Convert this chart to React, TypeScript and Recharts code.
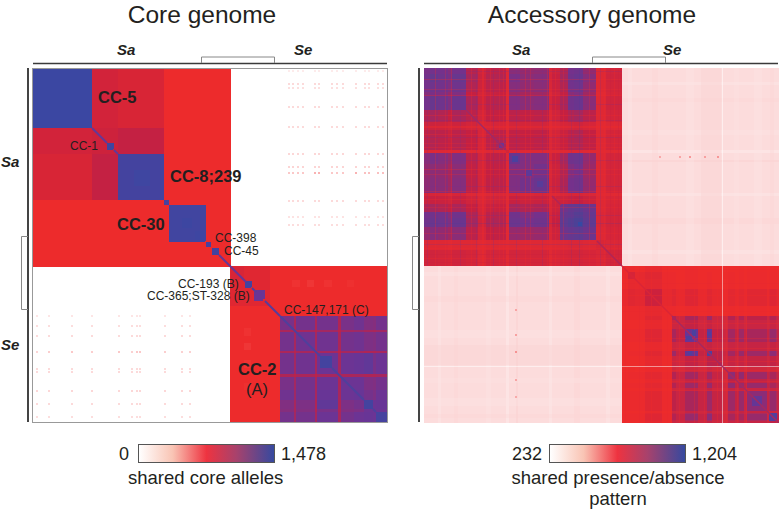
import { ScatterChart, Scatter, XAxis, YAxis, ReferenceArea, ReferenceLine } from "recharts";

// isolates are ranked 0..355 along both axes of each matrix, Sa first then Se
const RANK_MAX = 355;
const CORE_RANGE = [0, 1478];
const ACC_RANGE = [232, 1204];

// core genome: [from, to, from, to, shared alleles], every block also mirrored over the diagonal
const coreBlocks = [
  [0, 199, 131, 199, 745],
  [131, 199, 0, 131, 745],
  [60, 86, 0, 60, 905],
  [86, 132, 0, 60, 865],
  [60, 86, 60, 86, 930],
  [86, 132, 60, 86, 950],
  [60, 86, 86, 132, 970],
  [0, 60, 0, 60, 1450],
  [86, 132, 86, 132, 1400],
  [102, 118, 102, 118, 1430],
  [132, 137, 132, 137, 1380],
  [137, 174, 137, 173, 1415],
  [150, 160, 150, 160, 1440],
  [163, 172, 163, 172, 1435],
  [174, 179, 174, 179, 1370],
  [180, 187, 180, 187, 1400],
  [75, 82, 75, 81, 1420],
  [199, 355, 198, 248, 745],
  [199, 248, 199, 355, 745],
  [199, 238, 198, 238, 820],
  [199, 212, 199, 212, 870],
  [214, 220, 213, 219, 1400],
  [224, 233, 222, 231, 1200],
  [260, 268, 212, 219, 715],
  [275, 282, 212, 219, 700],
  [292, 300, 212, 219, 715],
  [315, 322, 212, 219, 720],
];
const coreDiagonal = [
  [60, 75, 1220],
  [82, 86, 1220],
  [187, 199, 1220],
  [199, 214, 1200],
  [220, 224, 1300],
  [233, 248, 1300],
];

// CC-2 (A) block, lower triangle of the pairwise matrix
const cc2Breaks = [248, 262, 264, 283, 285, 306, 309, 322, 332, 341, 344, 355];
const cc2Triangle = [
  [1150],
  [1030, 1030],
  [1160, 1040, 1170],
  [1030, 1000, 1040, 1030],
  [1160, 1050, 1170, 1040, 1180],
  [1020, 990, 1030, 980, 1040, 1020],
  [1150, 1050, 1160, 1040, 1180, 1030, 1180],
  [1170, 1060, 1170, 1040, 1200, 1040, 1180, 1200],
  [1130, 1040, 1140, 1020, 1240, 1020, 1140, 1160, 1400],
  [1120, 1030, 1130, 1020, 1150, 1020, 1130, 1140, 1180, 1190],
  [1160, 1050, 1160, 1040, 1180, 1040, 1160, 1180, 1200, 1180, 1390],
];
const cc2Squares = [[288, 300, 1400]];
const cc2Diagonal = [[248, 288, 1340], [300, 332, 1340], [341, 344, 1340]];

// faint shared alleles between the two species
const coreSaRows = [3, 16, 20, 39, 59, 86, 99, 105, 133, 149, 157];
const coreSaRowLevel = [70, 130, 110, 130, 130, 140, 150, 270, 130, 100, 120];
const coreSeCols = [257, 261, 266, 271, 283, 287, 300, 305, 311, 324, 333, 337, 346, 351];
const coreSeColLevel = [190, 190, 190, 190, 280, 280, 190, 190, 190, 280, 220, 220, 220, 220];
const coreSeRows = [248, 258, 268, 284, 301, 304, 323, 336, 349];
const coreSeRowLevel = [90, 120, 130, 190, 130, 130, 140, 130, 120];
const coreSaCols = [5, 17, 40, 60, 87, 100, 105, 108, 133, 150, 158];
const coreSaColLevel = [150, 170, 210, 170, 230, 160, 280, 280, 170, 160, 160];

// accessory genome, Sa against Sa
const accSaBreaks = [0, 6, 14, 24, 28, 42, 54, 62, 72, 82, 85, 96, 110, 125, 128, 136, 144, 150, 159, 172, 182, 198];
const accSaTriangle = [
  [1000],
  [1020, 1080],
  [1010, 1040, 1020],
  [980, 1000, 990, 950],
  [1020, 1070, 1040, 990, 1060],
  [890, 920, 900, 860, 910, 880],
  [810, 830, 820, 790, 820, 800, 770],
  [870, 890, 880, 840, 880, 860, 780, 870],
  [880, 900, 880, 850, 890, 860, 780, 880, 920],
  [745, 745, 745, 735, 745, 735, 725, 745, 745, 800],
  [970, 1000, 980, 940, 990, 880, 800, 870, 880, 745, 1060],
  [950, 970, 960, 920, 970, 870, 790, 860, 870, 745, 990, 990],
  [960, 980, 970, 930, 980, 880, 800, 870, 880, 745, 990, 1020, 1060],
  [770, 780, 770, 750, 780, 750, 725, 750, 760, 725, 770, 760, 770, 735],
  [830, 850, 840, 810, 850, 810, 760, 800, 810, 735, 850, 830, 840, 745, 820],
  [900, 920, 900, 870, 910, 860, 780, 840, 850, 735, 920, 900, 910, 760, 830, 1040],
  [1010, 1030, 1020, 970, 1030, 900, 800, 880, 890, 745, 1030, 990, 1010, 770, 850, 1080, 1110],
  [1030, 1060, 1040, 990, 1060, 920, 810, 900, 900, 745, 1050, 1010, 1030, 770, 860, 1100, 1150, 1190],
  [950, 980, 960, 930, 970, 880, 780, 860, 870, 735, 950, 940, 950, 760, 830, 1050, 1080, 1100, 1050],
  [740, 740, 740, 730, 740, 740, 725, 740, 740, 725, 740, 740, 740, 725, 740, 750, 760, 760, 750, 770],
  [800, 810, 800, 780, 810, 790, 750, 790, 790, 735, 800, 790, 790, 735, 770, 780, 790, 800, 780, 760, 800],
];
const accSaWash = [0, 198, 900, 0.16];
// accessory genome, Se against Se
const accSeBreaks = [198, 204, 211, 221, 238, 248, 252, 261, 274, 283, 288, 299, 304, 311, 315, 320, 323, 343, 345, 353, 355];
const accSeTriangle = [
  [730],
  [730, 810],
  [720, 750, 740],
  [740, 770, 760, 850],
  [720, 730, 730, 750, 730],
  [720, 730, 730, 770, 730, 880],
  [720, 720, 720, 740, 720, 800, 800],
  [730, 730, 730, 780, 730, 900, 840, 1020],
  [720, 720, 720, 740, 720, 800, 780, 830, 800],
  [720, 730, 730, 770, 730, 920, 820, 1030, 830, 1060],
  [720, 720, 720, 750, 720, 800, 780, 840, 790, 870, 860],
  [715, 720, 715, 730, 720, 770, 750, 790, 760, 800, 770, 770],
  [720, 730, 730, 760, 730, 880, 810, 910, 810, 910, 820, 770, 950],
  [720, 720, 720, 740, 720, 800, 780, 830, 790, 840, 790, 750, 860, 800],
  [725, 730, 730, 760, 730, 880, 810, 920, 810, 930, 820, 770, 940, 850, 930],
  [720, 720, 720, 740, 720, 790, 770, 820, 790, 830, 780, 750, 830, 790, 840, 790],
  [725, 730, 730, 770, 730, 860, 810, 900, 820, 920, 830, 770, 920, 840, 930, 810, 950],
  [720, 720, 720, 740, 720, 790, 770, 820, 780, 830, 790, 750, 820, 790, 830, 790, 830, 790],
  [725, 730, 730, 780, 730, 880, 820, 930, 830, 950, 840, 770, 900, 830, 900, 810, 930, 800, 1040],
  [720, 720, 720, 750, 720, 800, 780, 830, 790, 830, 790, 750, 810, 790, 820, 780, 820, 790, 860, 820],
];
const accSePurpleWash = [248, 355, 1010, 0.12];

// single isolates that stand out: [rank, span, value, opacity]
const accSaStripes = [
  [3, 1, 1000, 0.2], [11, 1, 718, 0.3], [21, 1, 718, 0.25], [27, 1, 718, 0.3], [36, 1, 1000, 0.2],
  [47, 1, 718, 0.3], [52, 1, 1000, 0.2], [58, 2, 718, 0.4], [66, 1, 718, 0.3], [69, 1, 1000, 0.2],
  [75, 1, 718, 0.25], [79, 1, 718, 0.3], [92, 1, 1000, 0.2], [101, 1, 718, 0.3], [106, 1, 718, 0.25],
  [118, 1, 1000, 0.2], [123, 1, 718, 0.3], [131, 1, 718, 0.3], [139, 1, 718, 0.25], [147, 1, 1000, 0.2],
  [155, 1, 1100, 0.2], [165, 1, 718, 0.25], [176, 1, 1000, 0.2], [180, 1, 718, 0.3], [186, 1, 860, 0.3],
  [190, 1, 718, 0.3], [194, 1, 860, 0.3],
];
const accSeStripes = [
  [201, 1, 740, 0.3], [215, 1, 760, 0.3], [227, 1, 718, 0.4], [243, 1, 740, 0.3], [255, 1, 718, 0.3],
  [270, 1, 718, 0.3], [280, 1, 718, 0.3], [293, 1, 718, 0.35], [302, 1, 718, 0.3], [313, 1, 718, 0.3],
  [322, 1, 718, 0.3], [345, 1, 718, 0.25], [352, 1, 718, 0.25],
];
const accPinkValue = 312;
const accPinkStripes = [
  [14, 3, 285, 0.4], [30, 4, 330, 0.35], [62, 5, 290, 0.35], [82, 3, 275, 0.5], [92, 2, 350, 0.4],
  [125, 3, 280, 0.4], [150, 6, 335, 0.3], [182, 4, 275, 0.35],
  [204, 4, 285, 0.35], [228, 6, 330, 0.3], [262, 8, 295, 0.35], [277, 20, 335, 0.4], [310, 5, 290, 0.3],
  [330, 8, 295, 0.35], [346, 4, 330, 0.3],
];
const accWhiteLine = 298;
const accSpecks = [
  { x: 236, y: 89, v: 430 }, { x: 256, y: 89, v: 440 }, { x: 266, y: 89, v: 470 }, { x: 281, y: 89, v: 450 }, { x: 294, y: 89, v: 470 },
  { x: 92, y: 242, v: 440 }, { x: 92, y: 267, v: 450 }, { x: 92, y: 284, v: 480 }, { x: 92, y: 312, v: 440 }, { x: 92, y: 329, v: 430 },
];
const accDiagonal = [[42, 82, 930], [128, 137, 900], [173, 198, 900], [198, 248, 800], [248, 355, 920]];
const accSquares = [
  [75, 80, 1000], [88, 94, 1130], [102, 108, 1060], [113, 119, 1080], [154, 158, 1204],
  [345, 353, 1110], [328, 338, 1030],
];
const accCrossSpots = [[268, 272, 262, 268, 1130], [283, 287, 264, 268, 1100], [283, 287, 283, 288, 1110]];

const coreLabels = ["CC-5", "CC-8;239", "CC-30", "CC-2"];
const coreLegend = { min: "0", max: "1,478", title: "shared core alleles" };
const accLegend = { min: "232", max: "1,204", title: "shared presence/absence", title2: "pattern" };

const colorStops: [number, number[]][] = [
  [0, [255, 255, 255]],
  [0.5, [238, 43, 43]],
  [0.65, [200, 32, 63]],
  [0.8, [107, 52, 149]],
  [1, [54, 73, 163]],
];

const valueColor = (value: number, range: number[]) => {
  const t = Math.min(1, Math.max(0, (value - range[0]) / (range[1] - range[0])));
  for (let i = 1; i < colorStops.length; i++) {
    const [t1, c1] = colorStops[i];
    if (t <= t1) {
      const [t0, c0] = colorStops[i - 1];
      const k = (t - t0) / (t1 - t0);
      const mix = c0.map((c, n) => Math.round(c + (c1[n] - c) * k));
      return `rgb(${mix.join(",")})`;
    }
  }
  return "rgb(54,73,163)";
};

const cross = (rows: number[], rowLevel: number[], cols: number[], colLevel: number[]) =>
  rows.flatMap((y, r) => cols.map((x, c) => ({ x, y, v: Math.min(rowLevel[r], colLevel[c]) })));

const coreSpecks = [
  ...cross(coreSaRows, coreSaRowLevel, coreSeCols, coreSeColLevel),
  ...cross(coreSeRows, coreSeRowLevel, coreSaCols, coreSaColLevel),
];

const area = (key: string, x1: number, x2: number, y1: number, y2: number, fill: string, opacity = 1) => (
  <ReferenceArea key={key} x1={x1} x2={x2} y1={y1} y2={y2} fill={fill} fillOpacity={opacity} stroke="none" />
);

const triangleAreas = (id: string, breaks: number[], triangle: number[][], range: number[]) =>
  breaks.slice(1).flatMap((_, i) =>
    breaks.slice(1).map((_, j) => {
      const value = triangle[Math.max(i, j)][Math.min(i, j)];
      return area(`${id}-${i}-${j}`, breaks[j], breaks[j + 1], breaks[i], breaks[i + 1], valueColor(value, range));
    })
  );

const stripeAreas = (id: string, stripes: number[][], from: number, to: number, range: number[]) =>
  stripes.flatMap(([pos, span, value, opacity], i) => [
    area(`${id}-v${i}`, pos, pos + span, from, to, valueColor(value, range), opacity),
    area(`${id}-h${i}`, from, to, pos, pos + span, valueColor(value, range), opacity),
  ]);

const diagonalLines = (id: string, runs: number[][], range: number[], width = 2) =>
  runs.map(([from, to, value], i) => (
    <ReferenceLine
      key={`${id}-${i}`}
      segment={[{ x: from, y: from }, { x: to, y: to }]}
      stroke={valueColor(value, range)}
      strokeWidth={width}
    />
  ));

const SpeckShape = ({ cx, cy, payload, range }: any) => (
  <rect x={cx - 1} y={cy - 1} width={2} height={2} fill={valueColor(payload.v, range)} />
);

const Matrix = ({ left, children, specks, range }: any) => (
  <div style={{ position: "absolute", left, top: 68, filter: "blur(0.6px)" }}>
    <ScatterChart width={RANK_MAX} height={RANK_MAX} margin={{ top: 0, right: 0, bottom: 0, left: 0 }}>
      <XAxis type="number" dataKey="x" domain={[0, RANK_MAX]} hide />
      <YAxis type="number" dataKey="y" domain={[0, RANK_MAX]} reversed hide />
      {children}
      <Scatter data={specks} isAnimationActive={false} shape={(props: any) => <SpeckShape {...props} range={range} />} />
    </ScatterChart>
  </div>
);

const font = "'Liberation Sans', Arial, sans-serif";
const ink = "#231f20";

const T = ({ x, y, s = 12, b = false, i = false, a = "start", c = ink, children }: any) => (
  <text x={x} y={y} fontSize={s} fontWeight={b ? 700 : 400} fontStyle={i ? "italic" : "normal"} textAnchor={a} fill={c} fontFamily={font}>
    {children}
  </text>
);

const gradient = "linear-gradient(to right, #ffffff 0%, #f9c4b4 25%, #ee3340 50%, #a8426c 72%, #36499f 100%)";

const Bar = ({ left }: { left: number }) => (
  <div
    style={{
      position: "absolute",
      left,
      top: 444,
      width: 135,
      height: 17,
      background: gradient,
      border: "1px solid #555",
    }}
  />
);

const Furniture = ({ x, bracketX }: { x: number; bracketX: number }) => (
  <g>
    <line x1={x + 1} x2={Math.min(x + 355, 779)} y1={63.5} y2={63.5} stroke="#3a3a3a" strokeWidth={1.5} />
    <polyline points={`${bracketX},63 ${bracketX},57 ${bracketX + 73},57 ${bracketX + 73},63`} fill="none" stroke="#888" strokeWidth={1} />
    <line x1={x - 4} x2={x - 4} y1={68} y2={422} stroke="#444" strokeWidth={2} />
    <polyline points={`${x - 4},236.5 ${x - 10.5},236.5 ${x - 10.5},309.5 ${x - 4},309.5`} fill="none" stroke="#888" strokeWidth={1} />
  </g>
);

export default function App() {
  return (
    <div style={{ position: "absolute", left: 0, top: 0, width: 779, height: 509, overflow: "hidden", background: "#fff" }}>
      <Matrix left={32} specks={coreSpecks} range={CORE_RANGE}>
        {coreBlocks.flatMap(([x1, x2, y1, y2, v], i) => [
          area(`core-a${i}`, x1, x2, y1, y2, valueColor(v, CORE_RANGE)),
          area(`core-b${i}`, y1, y2, x1, x2, valueColor(v, CORE_RANGE)),
        ])}
        {triangleAreas("cc2", cc2Breaks, cc2Triangle, CORE_RANGE)}
        {cc2Squares.map(([a, b, v], i) => area(`cc2-sq${i}`, a, b, a, b, valueColor(v, CORE_RANGE)))}
        {diagonalLines("core-d", coreDiagonal, CORE_RANGE)}
        {diagonalLines("cc2-d", cc2Diagonal, CORE_RANGE)}
      </Matrix>

      <Matrix left={424} specks={accSpecks} range={ACC_RANGE}>
        {area("pink-a", 198, RANK_MAX, 0, 198, valueColor(accPinkValue, ACC_RANGE))}
        {area("pink-b", 0, 198, 198, RANK_MAX, valueColor(accPinkValue, ACC_RANGE))}
        {stripeAreas("pink", accPinkStripes, 0, RANK_MAX, ACC_RANGE)}
        {triangleAreas("sa", accSaBreaks, accSaTriangle, ACC_RANGE)}
        {triangleAreas("se", accSeBreaks, accSeTriangle, ACC_RANGE)}
        {area("sa-wash", accSaWash[0], accSaWash[1], accSaWash[0], accSaWash[1], valueColor(accSaWash[2], ACC_RANGE), accSaWash[3])}
        {area("se-wash", accSePurpleWash[0], accSePurpleWash[1], accSePurpleWash[0], accSePurpleWash[1], valueColor(accSePurpleWash[2], ACC_RANGE), accSePurpleWash[3])}
        {stripeAreas("sa-s", accSaStripes, 0, 198, ACC_RANGE)}
        {stripeAreas("se-s", accSeStripes, 198, RANK_MAX, ACC_RANGE)}
        {area("w-v", accWhiteLine, accWhiteLine + 1, 0, RANK_MAX, "#fff", 0.5)}
        {area("w-h", 0, RANK_MAX, accWhiteLine, accWhiteLine + 1, "#fff", 0.5)}
        {diagonalLines("acc-d", accDiagonal, ACC_RANGE, 1.5)}
        {accSquares.map(([a, b, v], i) => area(`acc-sq${i}`, a, b, a, b, valueColor(v, ACC_RANGE)))}
        {accCrossSpots.flatMap(([x1, x2, y1, y2, v], i) => [
          area(`acc-x${i}`, x1, x2, y1, y2, valueColor(v, ACC_RANGE)),
          area(`acc-y${i}`, y1, y2, x1, x2, valueColor(v, ACC_RANGE)),
        ])}
      </Matrix>

      <Bar left={138} />
      <Bar left={549} />

      <svg width={779} height={509} style={{ position: "absolute", left: 0, top: 0 }}>
        <rect x={32.5} y={68.5} width={355} height={354} fill="none" stroke="#999" />
        <Furniture x={32} bracketX={201.5} />
        <Furniture x={423} bracketX={592.5} />

        <T x={202} y={22.5} s={24.5} a="middle">Core genome</T>
        <T x={592} y={22.5} s={24.5} a="middle">Accessory genome</T>
        <T x={117} y={55} s={15} b i>Sa</T>
        <T x={294} y={55} s={15} b i>Se</T>
        <T x={512} y={55} s={15} b i>Sa</T>
        <T x={663} y={55} s={15} b i>Se</T>
        <T x={1} y={167} s={15} b i>Sa</T>
        <T x={1} y={350} s={15} b i>Se</T>

        <T x={98} y={103} s={16.5} b>{coreLabels[0]}</T>
        <T x={170} y={182} s={16.5} b>{coreLabels[1]}</T>
        <T x={117} y={230} s={16.5} b>{coreLabels[2]}</T>
        <T x={238} y={375} s={16.5} b>{coreLabels[3]}</T>
        <T x={257} y={395} s={16.5} a="middle">(A)</T>
        <T x={70} y={150} s={12}>CC-1</T>
        <T x={215} y={242} s={12}>CC-398</T>
        <T x={224} y={255} s={12}>CC-45</T>
        <T x={178} y={287.5} s={12}>CC-193 (B)</T>
        <T x={147} y={300} s={12}>CC-365;ST-328 (B)</T>
        <T x={284} y={314} s={12}>CC-147,171 (C)</T>

        <T x={129} y={460} s={18} a="end">{coreLegend.min}</T>
        <T x={281} y={460} s={18}>{coreLegend.max}</T>
        <T x={128} y={484} s={18.5}>{coreLegend.title}</T>
        <T x={542} y={460} s={18} a="end">{accLegend.min}</T>
        <T x={692} y={460} s={18}>{accLegend.max}</T>
        <T x={618} y={484} s={18.5} a="middle">{accLegend.title}</T>
        <T x={618} y={505} s={18.5} a="middle">{accLegend.title2}</T>
      </svg>
    </div>
  );
}
